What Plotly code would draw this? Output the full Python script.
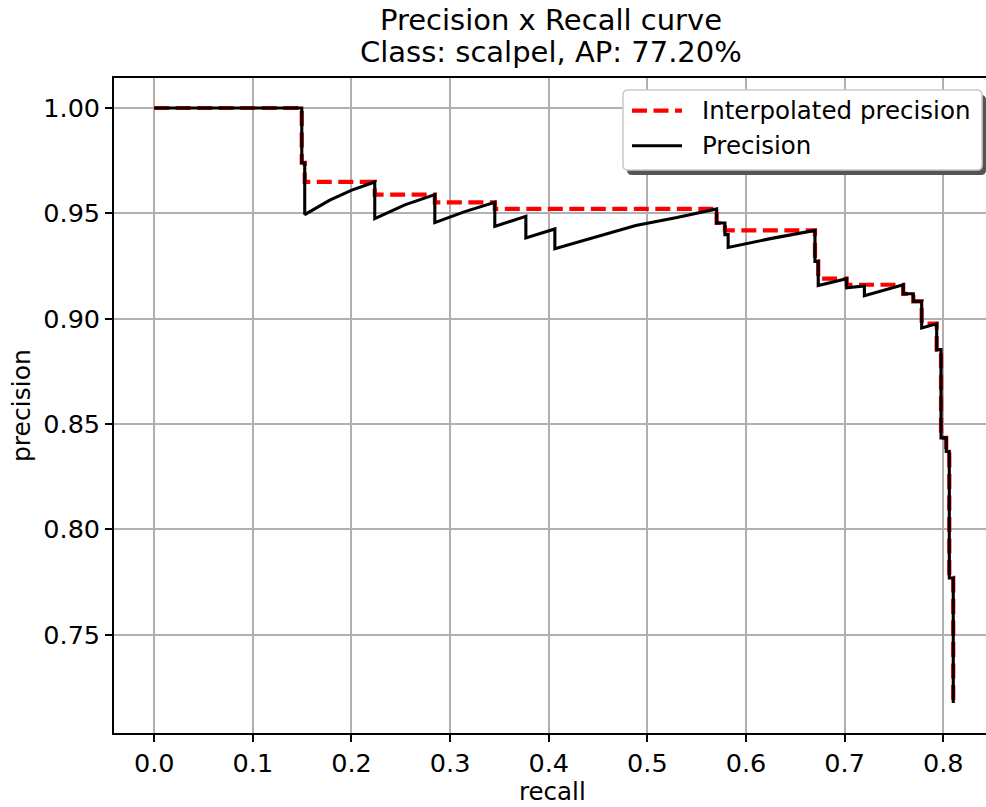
import plotly.graph_objects as go

# Precision curve (recall, precision)
prec_recall = [0.0, 0.1496, 0.1496, 0.1526, 0.1526, 0.1780, 0.2003, 0.2236, 0.2236, 0.2541,
               0.2845, 0.2845, 0.3149, 0.3453, 0.3453, 0.3768, 0.3768, 0.4062, 0.4062, 0.4882,
               0.5300, 0.5702, 0.5702, 0.5786, 0.5786, 0.5819, 0.5819, 0.6260, 0.6699, 0.6699,
               0.6732, 0.6732, 0.7020, 0.7020, 0.7200, 0.7200, 0.7594, 0.7594, 0.7696, 0.7696,
               0.7781, 0.7781, 0.7933, 0.7933, 0.7977, 0.7977, 0.8030, 0.8030, 0.8061, 0.8061,
               0.8101, 0.8101]
prec_values = [1.0, 1.0, 0.9740, 0.9740, 0.9494, 0.9563, 0.9610, 0.9649, 0.9475, 0.9540,
               0.9589, 0.9456, 0.9508, 0.9552, 0.9438, 0.9486, 0.9383, 0.9426, 0.9332, 0.9442,
               0.9480, 0.9521, 0.9454, 0.9454, 0.9399, 0.9399, 0.9338, 0.9381, 0.9419, 0.9272,
               0.9272, 0.9157, 0.9190, 0.9146, 0.9155, 0.9109, 0.9161, 0.9118, 0.9118, 0.9082,
               0.9082, 0.8956, 0.8976, 0.8853, 0.8853, 0.8434, 0.8434, 0.8370, 0.8370, 0.7769,
               0.7769, 0.7176]

# Interpolated precision curve
interp_recall = [0.0, 0.1496, 0.1496, 0.1526, 0.1526, 0.2236, 0.2236, 0.2845, 0.2845, 0.3453,
                 0.3453, 0.5702, 0.5702, 0.5786, 0.5786, 0.6699, 0.6699, 0.6732, 0.6732, 0.7020,
                 0.7020, 0.7594, 0.7594, 0.7696, 0.7696, 0.7781, 0.7781, 0.7933, 0.7933, 0.7977,
                 0.7977, 0.8030, 0.8030, 0.8061, 0.8061, 0.8101, 0.8101]
interp_values = [1.0, 1.0, 0.9740, 0.9740, 0.9649, 0.9649, 0.9589, 0.9589, 0.9552, 0.9552,
                 0.9521, 0.9521, 0.9454, 0.9454, 0.9419, 0.9419, 0.9272, 0.9272, 0.9190, 0.9190,
                 0.9161, 0.9161, 0.9118, 0.9118, 0.9082, 0.9082, 0.8976, 0.8976, 0.8853, 0.8853,
                 0.8434, 0.8434, 0.8370, 0.8370, 0.7769, 0.7769, 0.7176]

x_ticks = [0.0, 0.1, 0.2, 0.3, 0.4, 0.5, 0.6, 0.7, 0.8]
x_tick_labels = ["0.0", "0.1", "0.2", "0.3", "0.4", "0.5", "0.6", "0.7", "0.8"]
y_ticks = [0.75, 0.80, 0.85, 0.90, 0.95, 1.00]
y_tick_labels = ["0.75", "0.80", "0.85", "0.90", "0.95", "1.00"]

series_names = ["Interpolated precision", "Precision"]
title_lines = ["Precision x Recall curve", "Class: scalpel, AP: 77.20%"]

FONT = "DejaVu Sans"
W, H = 986, 807
ML, MT, MB, MR = 114, 78, 74, 0
plot_w = W - ML - MR
plot_h = H - MT - MB


def px_x(px):
    return (px - ML) / plot_w


def px_y(py):
    return 1 - (py - MT) / plot_h


RED = "#ff0000"
RED_DASH = "15px,6.5px"

fig = go.Figure()
fig.add_trace(go.Scatter(
    x=interp_recall, y=interp_values, mode="lines", name=series_names[0],
    line=dict(color=RED, width=4.2, dash=RED_DASH), showlegend=False,
))
fig.add_trace(go.Scatter(
    x=prec_recall, y=prec_values, mode="lines", name=series_names[1],
    line=dict(color="#000000", width=3.1), showlegend=False,
))


def rounded_rect_path(x0, y0, x1, y1, r):
    rx = r / plot_w
    ry = r / plot_h
    X0, X1 = px_x(x0), px_x(x1)
    Y0, Y1 = px_y(y0), px_y(y1)
    return (f"M {X0+rx},{Y0} L {X1-rx},{Y0} Q {X1},{Y0} {X1},{Y0-ry} "
            f"L {X1},{Y1+ry} Q {X1},{Y1} {X1-rx},{Y1} "
            f"L {X0+rx},{Y1} Q {X0},{Y1} {X0},{Y1+ry} "
            f"L {X0},{Y0-ry} Q {X0},{Y0} {X0+rx},{Y0} Z")


# legend frame (box drawn as shapes)
LX0, LY0, LX1, LY1 = 623, 90, 982, 170
fig.add_shape(type="path", xref="paper", yref="paper",
              path=rounded_rect_path(LX0 + 4, LY0 + 5, LX1 + 4, LY1 + 5, 5),
              fillcolor="#555555", line=dict(width=0), layer="above")
fig.add_shape(type="path", xref="paper", yref="paper",
              path=rounded_rect_path(LX0, LY0, LX1, LY1, 5),
              fillcolor="white", line=dict(color="#cccccc", width=1.6), layer="above")
handle_y = [110.7, 145.7]
fig.add_shape(type="line", xref="paper", yref="paper",
              x0=px_x(632), x1=px_x(682), y0=px_y(handle_y[0]), y1=px_y(handle_y[0]),
              line=dict(color=RED, width=4.2, dash=RED_DASH), layer="above")
fig.add_shape(type="line", xref="paper", yref="paper",
              x0=px_x(632), x1=px_x(682), y0=px_y(handle_y[1]), y1=px_y(handle_y[1]),
              line=dict(color="#000000", width=3.1), layer="above")
for name, hy in zip(series_names, handle_y):
    fig.add_annotation(text=name, xref="paper", yref="paper", x=px_x(700), y=px_y(hy),
                       xanchor="left", yanchor="middle", showarrow=False,
                       font=dict(family=FONT, size=24.5, color="black"))

# title
for line, ty in zip(title_lines, [20, 52]):
    fig.add_annotation(text=line, xref="paper", yref="paper", x=px_x(551), y=px_y(ty),
                       xanchor="center", yanchor="middle", showarrow=False,
                       font=dict(family=FONT, size=29, color="black"))

# axis titles
fig.add_annotation(text="recall", xref="paper", yref="paper", x=px_x(552), y=px_y(791),
                   xanchor="center", yanchor="middle", showarrow=False,
                   font=dict(family=FONT, size=24.5, color="black"))
fig.add_annotation(text="precision", xref="paper", yref="paper", x=px_x(21), y=px_y(406),
                   xanchor="center", yanchor="middle", showarrow=False, textangle=-90,
                   font=dict(family=FONT, size=25, color="black"))

fig.update_layout(
    width=W, height=H,
    margin=dict(l=ML, r=MR, t=MT, b=MB),
    paper_bgcolor="white", plot_bgcolor="white",
    font=dict(family=FONT, size=25, color="black"),
    showlegend=False,
    xaxis=dict(range=[-0.04077, (W - 154.5) / 986], tickvals=x_ticks, ticktext=x_tick_labels,
               showgrid=True, gridcolor="#b0b0b0", gridwidth=1.6,
               showline=True, linecolor="black", linewidth=1.6, mirror=True,
               ticks="outside", ticklen=7, tickwidth=1.6, tickcolor="black",
               zeroline=False, tickfont=dict(size=25.5)),
    yaxis=dict(range=[0.7033, 1.01424], tickvals=y_ticks, ticktext=y_tick_labels,
               showgrid=True, gridcolor="#b0b0b0", gridwidth=1.6,
               showline=True, linecolor="black", linewidth=1.6, mirror=False,
               ticks="outside", ticklen=7, tickwidth=1.6, tickcolor="black",
               zeroline=False, tickfont=dict(size=25.5)),
)

fig.write_html("out.html")
